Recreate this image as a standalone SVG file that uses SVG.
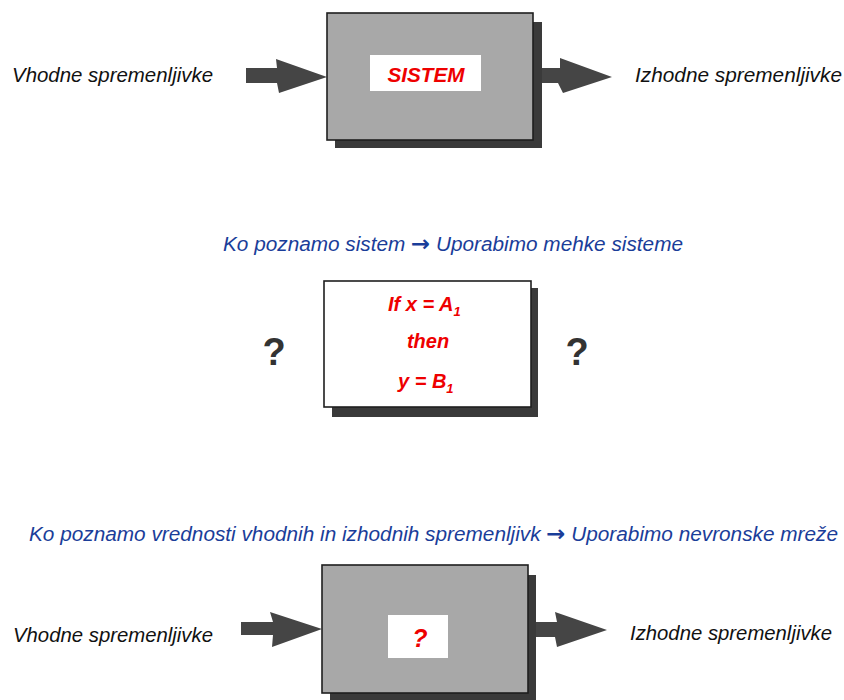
<svg xmlns="http://www.w3.org/2000/svg" width="844" height="700" viewBox="0 0 844 700">
  <style>
    .lbl { font-family: "Liberation Sans", Arial, sans-serif; font-style: italic; font-size: 20px; fill: #111; }
    .blue { font-family: "Liberation Sans", Arial, sans-serif; font-style: italic; font-size: 20px; fill: #1a3d99; }
    .arr { font-family: "DejaVu Sans", sans-serif; font-style: normal; font-weight: bold; }
    .red { font-family: "Liberation Sans", Arial, sans-serif; font-style: italic; font-weight: bold; fill: #ee0000; }
    .q { font-family: "Liberation Sans", Arial, sans-serif; font-weight: bold; font-size: 38px; fill: #333; }
    .box { fill: #a8a8a8; stroke: #1e1e1e; stroke-width: 1.6; }
    .wbox { fill: #ffffff; stroke: #1e1e1e; stroke-width: 1.6; }
    .shadow { fill: #3a3a3a; }
    .arrow { fill: #454545; }
  </style>

  <g id="connectors">
    <polygon class="arrow" points="246,68 277,68 276,59 327,77 279,93 277,83 246,83"/>
    <polygon class="arrow" points="535,68 560,68 560,58 612,77 563,93 558,83 535,83"/>
    <polygon class="arrow" points="241,622 273,622 270,612 322,629 272,647 273,635 241,635"/>
    <polygon class="arrow" points="532,622 557,622 555,612 607,630 557,647 555,637 532,637"/>
  </g>

  <g id="input-label-top">
    <text class="lbl" x="12" y="82" textLength="201" lengthAdjust="spacingAndGlyphs">Vhodne spremenljivke</text>
  </g>
  <g id="output-label-top">
    <text class="lbl" x="635" y="82" textLength="207" lengthAdjust="spacingAndGlyphs">Izhodne spremenljivke</text>
  </g>

  <g id="sistem-box">
    <rect class="shadow" x="335" y="22" width="207" height="126"/>
    <rect class="box" x="327" y="13" width="206" height="127"/>
    <rect x="370" y="55" width="111" height="36" fill="#ffffff"/>
    <text class="red" x="426" y="82" font-size="21" text-anchor="middle" textLength="77" lengthAdjust="spacingAndGlyphs">SISTEM</text>
  </g>

  <g id="caption-fuzzy">
    <text class="blue" x="223" y="251" textLength="460" lengthAdjust="spacingAndGlyphs">Ko poznamo sistem <tspan class="arr" font-size="22">→</tspan> Uporabimo mehke sisteme</text>
  </g>

  <g id="rule-box">
    <rect class="shadow" x="332" y="288" width="206" height="129"/>
    <rect class="wbox" x="324" y="281" width="207" height="126"/>
    <text class="red" x="388" y="311" font-size="20">If x = A<tspan font-size="13" dy="5">1</tspan></text>
    <text class="red" x="428" y="348" font-size="20" text-anchor="middle">then</text>
    <text class="red" x="398" y="388" font-size="20">y = B<tspan font-size="13" dy="5">1</tspan></text>
  </g>

  <g id="question-left">
    <text class="q" x="274" y="365" text-anchor="middle">?</text>
  </g>
  <g id="question-right">
    <text class="q" x="577" y="365" text-anchor="middle">?</text>
  </g>

  <g id="caption-neural">
    <text class="blue" x="29" y="541" textLength="809" lengthAdjust="spacingAndGlyphs">Ko poznamo vrednosti vhodnih in izhodnih spremenljivk <tspan class="arr" font-size="22">→</tspan> Uporabimo nevronske mreže</text>
  </g>

  <g id="input-label-bottom">
    <text class="lbl" x="13" y="642" textLength="200" lengthAdjust="spacingAndGlyphs">Vhodne spremenljivke</text>
  </g>
  <g id="output-label-bottom">
    <text class="lbl" x="630" y="640" textLength="202" lengthAdjust="spacingAndGlyphs">Izhodne spremenljivke</text>
  </g>

  <g id="unknown-box">
    <rect class="shadow" x="330" y="575" width="206" height="130"/>
    <rect class="box" x="322" y="565" width="206" height="128"/>
    <rect x="388" y="615" width="60" height="43" fill="#ffffff"/>
    <text class="red" x="420" y="647" font-size="25" text-anchor="middle">?</text>
  </g>
</svg>
